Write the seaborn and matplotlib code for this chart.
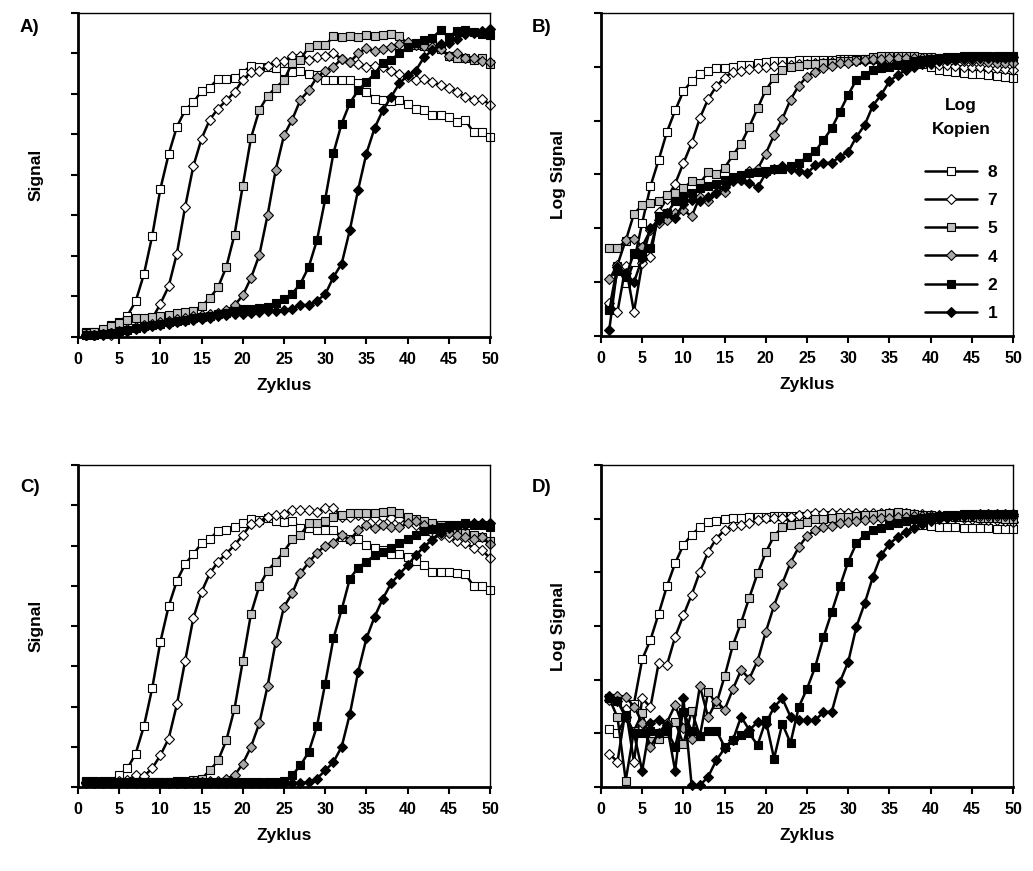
import numpy as np
import pandas as pd
import matplotlib
matplotlib.use("Agg")
import matplotlib.pyplot as plt
import seaborn as sns

cycles = list(range(1, 51))
copies = ["8", "7", "5", "4", "2", "1"]

# Panel A (Signal)
A8 = [0.12,0.12,0.16,0.29,0.37,0.53,0.88,1.55,2.49,3.66,4.51,5.19,5.6,5.8,6.07,6.16,6.38,6.36,6.4,6.53,
      6.7,6.67,6.67,6.63,6.57,6.55,6.56,6.5,6.46,6.34,6.34,6.34,6.34,6.26,6.05,5.87,5.85,5.83,5.85,5.76,
      5.64,5.6,5.47,5.47,5.43,5.31,5.35,5.06,5.06,4.94]
A7 = [0.05,0.05,0.05,0.06,0.1,0.15,0.22,0.3,0.45,0.82,1.25,2.06,3.21,4.22,4.9,5.37,5.64,5.84,6.05,6.35,
      6.54,6.58,6.69,6.79,6.81,6.95,6.95,6.85,6.91,6.95,7.0,6.87,6.79,6.75,6.67,6.7,6.67,6.58,6.5,6.42,
      6.35,6.36,6.3,6.21,6.16,6.05,5.93,5.86,5.87,5.74]
A5 = [0.1,0.12,0.2,0.28,0.35,0.42,0.47,0.48,0.5,0.52,0.55,0.6,0.62,0.65,0.76,0.96,1.23,1.73,2.53,3.74,
      4.92,5.6,5.95,6.16,6.34,6.77,6.85,7.16,7.2,7.2,7.42,7.4,7.43,7.4,7.45,7.43,7.46,7.49,7.43,7.24,
      7.2,7.18,7.2,7.1,6.95,6.9,6.88,6.85,6.9,6.73]
A4 = [0.05,0.05,0.08,0.1,0.15,0.2,0.25,0.3,0.32,0.36,0.4,0.45,0.48,0.52,0.55,0.58,0.6,0.66,0.78,1.03,
      1.46,2.02,3.0,4.13,4.98,5.37,5.86,6.09,6.42,6.56,6.67,6.87,6.79,7.0,7.14,7.05,7.12,7.16,7.24,7.28,
      7.2,7.18,7.15,7.12,6.95,7.02,6.9,6.88,6.82,6.79]
A2 = [0.05,0.06,0.08,0.1,0.14,0.18,0.22,0.26,0.3,0.33,0.37,0.4,0.43,0.46,0.5,0.53,0.57,0.6,0.65,0.68,
      0.7,0.72,0.75,0.85,0.95,1.07,1.32,1.73,2.39,3.4,4.54,5.27,5.78,6.09,6.3,6.5,6.77,6.85,7.0,7.16,
      7.27,7.33,7.39,7.57,7.41,7.56,7.59,7.53,7.49,7.45]
A1 = [0.04,0.05,0.07,0.09,0.13,0.16,0.2,0.23,0.27,0.3,0.33,0.36,0.39,0.42,0.45,0.48,0.51,0.54,0.56,0.58,
      0.6,0.62,0.63,0.65,0.66,0.7,0.8,0.78,0.9,1.05,1.48,1.81,2.65,3.64,4.53,5.16,5.6,5.93,6.26,6.46,
      6.58,6.91,7.08,7.24,7.25,7.37,7.49,7.5,7.55,7.61]

# Panel B (Log Signal)
B8 = [0.5,1.3,0.98,1.38,2.1,2.78,3.27,3.79,4.19,4.55,4.73,4.86,4.92,4.97,4.98,5.0,5.03,5.04,5.07,5.09,
      5.1,5.1,5.11,5.12,5.12,5.13,5.13,5.13,5.14,5.14,5.14,5.15,5.15,5.15,5.15,5.14,5.13,5.1,5.05,5.0,
      4.95,4.92,4.9,4.88,4.87,4.86,4.85,4.83,4.82,4.79]
B7 = [0.61,0.45,1.3,0.45,1.35,1.47,2.31,2.55,2.83,3.21,3.58,4.05,4.4,4.64,4.8,4.91,4.93,4.96,4.97,5.0,
      5.02,5.03,5.04,5.05,5.06,5.07,5.08,5.09,5.1,5.1,5.11,5.11,5.12,5.12,5.12,5.12,5.12,5.1,5.08,5.06,
      5.04,5.03,5.02,5.0,5.0,4.99,4.98,4.97,4.96,4.95]
B5 = [1.63,1.63,1.77,2.27,2.43,2.47,2.51,2.62,2.66,2.75,2.87,2.84,3.04,3.01,3.12,3.36,3.57,3.89,4.23,4.57,
      4.79,4.94,5.0,5.02,5.05,5.06,5.07,5.08,5.1,5.1,5.12,5.15,5.18,5.2,5.2,5.2,5.2,5.2,5.19,5.18,
      5.17,5.17,5.17,5.17,5.17,5.17,5.17,5.17,5.17,5.17]
B4 = [1.05,1.32,1.78,1.8,1.66,1.97,2.1,2.15,2.28,2.34,2.22,2.59,2.5,2.65,2.68,2.87,2.9,3.07,3.1,3.39,
      3.73,4.03,4.39,4.65,4.82,4.91,4.97,5.02,5.07,5.08,5.1,5.12,5.14,5.15,5.16,5.17,5.17,5.17,5.16,5.15,
      5.14,5.13,5.12,5.11,5.1,5.1,5.09,5.08,5.07,5.07]
B2 = [0.48,1.2,1.1,1.54,1.53,1.63,2.22,2.28,2.5,2.59,2.65,2.74,2.78,2.83,2.9,2.96,2.99,3.02,3.05,3.07,
      3.11,3.11,3.15,3.21,3.33,3.43,3.64,3.86,4.17,4.48,4.76,4.85,4.94,4.97,5.0,5.03,5.06,5.1,5.12,5.15,
      5.17,5.18,5.19,5.2,5.2,5.21,5.21,5.21,5.21,5.21]
B1 = [0.11,1.29,1.17,1.0,1.44,2.0,2.16,2.28,2.19,2.46,2.53,2.5,2.59,2.66,2.77,2.9,2.9,2.85,2.76,3.02,
      3.11,3.15,3.11,3.07,3.02,3.17,3.21,3.22,3.33,3.42,3.7,3.92,4.28,4.48,4.73,4.85,4.94,5.0,5.05,5.08,
      5.1,5.12,5.13,5.14,5.15,5.16,5.16,5.17,5.17,5.18]

# Panel C (Signal)
C8 = [0.15,0.14,0.15,0.16,0.29,0.46,0.83,1.51,2.45,3.61,4.49,5.12,5.54,5.79,6.05,6.16,6.37,6.38,6.45,6.55,
      6.66,6.63,6.68,6.62,6.59,6.62,6.43,6.43,6.38,6.38,6.38,6.22,6.15,6.16,6.01,5.93,5.89,5.8,5.8,5.72,
      5.62,5.51,5.35,5.33,5.33,5.31,5.29,5.0,5.0,4.89]
C7 = [0.12,0.12,0.13,0.13,0.14,0.17,0.29,0.27,0.46,0.79,1.2,2.05,3.13,4.2,4.85,5.31,5.6,5.8,6.01,6.26,
      6.53,6.59,6.72,6.76,6.78,6.88,6.87,6.87,6.84,6.94,6.94,6.72,6.72,6.76,6.72,6.68,6.7,6.68,6.65,6.6,
      6.5,6.4,6.3,6.25,6.2,6.1,6.05,5.95,5.9,5.68]
C5 = [0.12,0.12,0.12,0.12,0.12,0.12,0.12,0.12,0.12,0.13,0.13,0.14,0.15,0.17,0.21,0.41,0.66,1.16,1.95,3.13,
      4.31,4.99,5.37,5.6,5.85,6.15,6.26,6.55,6.55,6.6,6.72,6.75,6.8,6.8,6.8,6.8,6.82,6.85,6.8,6.7,
      6.65,6.6,6.55,6.5,6.45,6.35,6.3,6.25,6.2,6.1]
C4 = [0.1,0.1,0.1,0.1,0.1,0.1,0.1,0.1,0.1,0.1,0.1,0.1,0.11,0.12,0.13,0.14,0.16,0.2,0.29,0.58,
      1.0,1.58,2.5,3.61,4.48,4.81,5.31,5.58,5.82,5.99,6.05,6.26,6.14,6.38,6.51,6.43,6.5,6.45,6.45,6.55,
      6.6,6.5,6.4,6.35,6.3,6.25,6.2,6.15,6.2,6.04]
C2 = [0.12,0.12,0.12,0.12,0.12,0.12,0.12,0.12,0.12,0.12,0.12,0.12,0.12,0.12,0.12,0.12,0.12,0.12,0.12,0.12,
      0.12,0.12,0.12,0.13,0.15,0.29,0.54,0.87,1.51,2.57,3.69,4.41,5.18,5.45,5.6,5.76,5.85,5.95,6.05,6.15,
      6.25,6.35,6.4,6.45,6.5,6.52,6.55,6.5,6.5,6.45]
C1 = [0.1,0.1,0.1,0.1,0.1,0.1,0.1,0.1,0.1,0.1,0.1,0.1,0.1,0.1,0.1,0.1,0.1,0.1,0.1,0.1,
      0.1,0.1,0.1,0.1,0.1,0.1,0.1,0.12,0.21,0.41,0.62,1.0,1.82,2.86,3.69,4.23,4.68,5.06,5.29,5.51,
      5.76,5.97,6.14,6.3,6.43,6.48,6.51,6.55,6.55,6.57]

# Panel D (Log Signal)
D8 = [1.08,1.0,1.3,1.55,2.38,2.74,3.23,3.74,4.17,4.51,4.7,4.84,4.93,4.96,4.99,5.02,5.02,5.03,5.04,5.04,
      5.05,5.05,5.05,5.05,5.05,5.06,5.06,5.06,5.06,5.06,5.06,5.06,5.06,5.05,5.03,5.0,4.95,4.9,4.88,4.86,
      4.85,4.84,4.84,4.83,4.83,4.82,4.82,4.81,4.8,4.8]
D7 = [0.62,0.47,1.45,0.47,1.65,1.49,2.31,2.27,2.8,3.2,3.58,4.01,4.38,4.63,4.79,4.86,4.88,4.91,4.98,5.01,
      5.01,5.02,5.04,5.06,5.08,5.11,5.11,5.11,5.11,5.11,5.11,5.11,5.11,5.1,5.1,5.1,5.1,5.09,5.08,5.07,
      5.06,5.05,5.04,5.02,5.0,4.99,4.98,4.97,4.96,4.94]
D5 = [1.65,1.3,0.12,1.05,1.37,0.85,0.9,1.0,1.22,0.8,1.42,0.95,1.77,1.55,2.06,2.64,3.06,3.53,3.98,4.37,
      4.68,4.84,4.88,4.9,4.93,4.99,5.0,5.02,5.03,5.04,5.05,5.06,5.07,5.08,5.1,5.12,5.1,5.08,5.07,5.06,
      5.05,5.05,5.04,5.04,5.03,5.02,5.02,5.01,5.0,5.0]
D4 = [1.62,1.7,1.68,1.5,1.2,0.75,1.0,1.2,1.53,1.1,0.9,1.88,1.3,1.6,1.44,1.82,2.18,2.02,2.35,2.89,
      3.38,3.79,4.18,4.47,4.68,4.78,4.84,4.86,4.91,4.94,4.96,4.98,5.0,5.01,5.02,5.03,5.04,5.05,5.05,5.05,
      5.05,5.05,5.05,5.05,5.05,5.05,5.05,5.05,5.05,5.05]
D2 = [1.65,1.6,1.35,1.0,1.0,1.05,1.0,1.05,0.75,1.4,1.05,0.95,1.05,1.05,0.75,0.87,0.96,1.0,0.78,1.24,
      0.53,1.18,0.82,1.49,1.83,2.24,2.79,3.26,3.74,4.2,4.54,4.7,4.78,4.82,4.88,4.92,4.96,4.99,5.01,5.03,
      5.05,5.06,5.07,5.08,5.08,5.08,5.08,5.08,5.08,5.08]
D1 = [1.7,1.6,1.3,1.0,0.3,1.2,1.25,1.15,0.3,1.65,0.03,0.03,0.19,0.5,0.72,0.87,1.31,1.06,1.21,1.18,
      1.49,1.65,1.31,1.24,1.24,1.24,1.4,1.4,1.96,2.33,2.99,3.42,3.92,4.32,4.53,4.66,4.76,4.82,4.9,4.96,
      5.0,5.02,5.04,5.06,5.07,5.08,5.08,5.08,5.08,5.08]

panels = {
    "A)": ([A8, A7, A5, A4, A2, A1], "Signal", 8),
    "B)": ([B8, B7, B5, B4, B2, B1], "Log Signal", 6),
    "C)": ([C8, C7, C5, C4, C2, C1], "Signal", 8),
    "D)": ([D8, D7, D5, D4, D2, D1], "Log Signal", 6),
}

markers = ["s", "D", "s", "D", "s", "D"]
msizes = [6.2, 5.2, 6.2, 5.2, 6.2, 5.2]
faces = ["white", "white", "#c0c0c0", "#a8a8a8", "black", "black"]

sns.set_theme(style="white")
plt.rcParams["font.family"] = ["Liberation Sans", "DejaVu Sans"]
plt.rcParams["font.weight"] = "bold"
plt.rcParams["axes.labelweight"] = "bold"
plt.rcParams["text.color"] = "black"
plt.rcParams["axes.labelcolor"] = "black"
plt.rcParams["xtick.color"] = "black"
plt.rcParams["ytick.color"] = "black"

fig = plt.figure(figsize=(10.33, 8.71), dpi=100)
W, H = 1033, 871
boxes = {
    "A)": (78, 13, 490, 337),
    "B)": (601, 13, 1013, 336),
    "C)": (78, 465, 490, 787),
    "D)": (601, 465, 1013, 787),
}
letter_pos = {"A)": (20, 27), "B)": (532, 27), "C)": (20, 487), "D)": (532, 487)}

for key, (series, ylabel, ymax) in panels.items():
    x0, y0, x1, y1 = boxes[key]
    ax = fig.add_axes([x0 / W, 1 - y1 / H, (x1 - x0) / W, (y1 - y0) / H])
    for vals, lab, m, ms, fc in zip(series, copies, markers, msizes, faces):
        df = pd.DataFrame({"Zyklus": cycles, "v": vals})
        sns.lineplot(data=df, x="Zyklus", y="v", ax=ax, color="black", lw=1.8,
                     marker=m, markersize=ms, markerfacecolor=fc,
                     markeredgecolor="black", markeredgewidth=0.8,
                     errorbar=None, label=lab, clip_on=False, legend=False)
    ax.set_xlim(0, 50)
    ax.set_ylim(0, ymax)
    ax.set_xticks(range(0, 51, 5))
    ax.set_yticks(range(0, ymax + 1))
    ax.set_yticklabels([])
    ax.tick_params(axis="both", direction="out", length=5, width=1.5, color="black",
                   labelcolor="black", left=True, bottom=True, labelsize=11.5, pad=6)
    for lbl in ax.get_xticklabels():
        lbl.set_fontweight("bold")
    ax.set_xlabel("Zyklus", fontsize=12.5, fontweight="bold", labelpad=8, color="black")
    ax.set_ylabel(ylabel, fontsize=12.5, fontweight="bold", labelpad=14, color="black")
    for s in ["left", "bottom"]:
        ax.spines[s].set_linewidth(2.0)
        ax.spines[s].set_color("black")
    for s in ["top", "right"]:
        ax.spines[s].set_linewidth(1.0)
        ax.spines[s].set_color("black")
    lx, ly = letter_pos[key]
    fig.text(lx / W, 1 - ly / H, key, fontsize=13.5, fontweight="bold", va="center",
             ha="left", color="black")
    if key == "B)":
        handles = ax.get_lines()[:6]
        leg = ax.legend(handles=handles, labels=copies, title="Log\nKopien",
                        loc="upper right", bbox_to_anchor=(1.0, 0.785), frameon=False,
                        handlelength=3.0, labelspacing=0.75, handletextpad=0.6,
                        prop={"weight": "bold", "size": 12.5},
                        title_fontproperties={"weight": "bold", "size": 12.5})
        t = leg.get_title()
        t.set_multialignment("center")
        t.set_linespacing(1.75)
        t.set_color("black")
        for txt in leg.get_texts():
            txt.set_color("black")
        leg._legend_box.sep = 20

fig.savefig("out.png", dpi=100)
